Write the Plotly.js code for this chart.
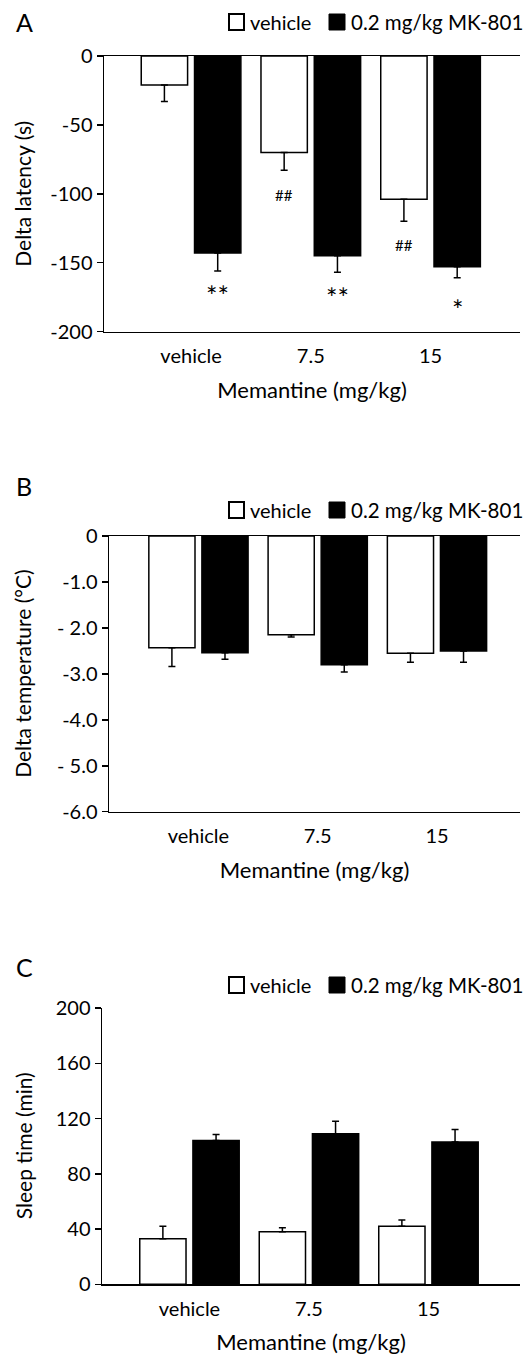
<!DOCTYPE html>
<html>
<head>
<meta charset="utf-8">
<script src="https://cdn.plot.ly/plotly-3.0.1.min.js"></script>
<style>html,body{margin:0;padding:0;background:#fff;}#chart{width:526px;height:1359px;}</style>
</head>
<body>
<div id="chart"></div>
<script>
// ---- data ----
var categories = ['vehicle', '7.5', '15'];
var seriesNames = ['vehicle', '0.2 mg/kg MK-801'];

// Panel A: Delta latency (s)
var latencyVehicle = [-21, -70, -104];
var latencyVehicleErr = [12, 13, 16];
var latencyMK = [-143, -145, -153];
var latencyMKErr = [13, 12, 8];
var latencyVehicleSig = ['', '##', '##'];
var latencyVehicleSigY = [null, -101, -137];
var latencyMKSig = ['**', '**', '*'];
var latencyMKSigY = [-172, -173, -182];
var latencyTickVals = [0, -50, -100, -150, -200];
var latencyTickText = ['0', '-50', '-100', '-150', '-200'];

// Panel B: Delta temperature (°C)
var tempVehicle = [-2.43, -2.15, -2.55];
var tempVehicleErr = [0.41, 0.05, 0.20];
var tempMK = [-2.54, -2.80, -2.50];
var tempMKErr = [0.14, 0.16, 0.25];
var tempTickVals = [0, -1, -2, -3, -4, -5, -6];
var tempTickText = ['0', '-1.0', '- 2.0', '-3.0', '-4.0', '- 5.0', '-6.0'];

// Panel C: Sleep time (min)
var sleepVehicle = [33, 38, 42];
var sleepVehicleErr = [9, 3, 4.5];
var sleepMK = [104, 109, 103];
var sleepMKErr = [4.5, 9, 9];
var sleepTickVals = [0, 40, 80, 120, 160, 200];

var panelLetters = ['A', 'B', 'C'];
var yTitles = ['Delta latency (s)', 'Delta temperature (\u00B0C)', 'Sleep time (min)'];
var xTitle = 'Memantine (mg/kg)';

// ---- styling ----
var FONT = 'Lato, "Open Sans", sans-serif';
var W = 526, H = 1359;
function zeros(n){ var a=[]; for(var i=0;i<n;i++) a.push(0); return a; }

function barTrace(vals, errs, idx, axisSuffix, down){
  var fill = idx === 0 ? '#ffffff' : '#000000';
  return {
    type: 'bar',
    name: seriesNames[idx],
    x: categories,
    y: vals,
    xaxis: 'x' + axisSuffix,
    yaxis: 'y' + axisSuffix,
    showlegend: false,
    marker: {color: fill, line: {color: '#000', width: 1.5}},
    error_y: {
      type: 'data', symmetric: false,
      array: down ? zeros(errs.length) : errs,
      arrayminus: down ? errs : zeros(errs.length),
      color: '#000', thickness: 1.5, width: 3.5
    },
    hoverinfo: 'skip'
  };
}

var data = [
  barTrace(latencyVehicle, latencyVehicleErr, 0, '', true),
  barTrace(latencyMK, latencyMKErr, 1, '', true),
  barTrace(tempVehicle, tempVehicleErr, 0, '2', true),
  barTrace(tempMK, tempMKErr, 1, '2', true),
  barTrace(sleepVehicle, sleepVehicleErr, 0, '3', false),
  barTrace(sleepMK, sleepMKErr, 1, '3', false)
];

// panel geometry in pixels (top-left origin)
var panels = [
  {axL: 104, axR: 520, yTop: 56,  yBot: 331.5, range: [-200, 0], xr: [-0.727, 2.747], mirror: true,  legY: 22,  letY: 22},
  {axL: 109, axR: 520, yTop: 536, yBot: 811.7, range: [-6, 0],   xr: [-0.750, 2.696], mirror: true,  legY: 510, letY: 486},
  {axL: 102, axR: 520, yTop: 1008, yBot: 1284.3, range: [0, 200], xr: [-0.732, 2.766], mirror: false, legY: 985, letY: 967}
];

var layout = {
  width: W, height: H,
  margin: {l: 0, r: 0, t: 0, b: 0},
  paper_bgcolor: '#fff', plot_bgcolor: 'rgba(0,0,0,0)',
  barmode: 'group', bargap: 0.11, bargroupgap: 0.13,
  showlegend: false,
  font: {family: FONT, color: '#000', size: 20},
  annotations: [], shapes: []
};

panels.forEach(function(p, i){
  var s = i === 0 ? '' : String(i + 1);
  var xd = [p.axL / W, p.axR / W];
  var yd = [1 - p.yBot / H, 1 - p.yTop / H];
  layout['xaxis' + s] = {
    domain: xd, range: p.xr, type: 'category', anchor: 'y' + s,
    showline: true, linecolor: '#000', linewidth: 1.5, mirror: p.mirror,
    ticks: '', showgrid: false, zeroline: false, fixedrange: true,
    tickfont: {family: FONT, size: 20, color: '#000'}, ticklabelstandoff: 6,
    title: {text: xTitle, font: {family: FONT, size: 22, color: '#000'}, standoff: 16}
  };
  var ya = {
    domain: yd, range: p.range, anchor: 'x' + s,
    showline: true, linecolor: '#000', linewidth: 1.5,
    ticks: 'outside', ticklen: 6, tickwidth: 1.5, tickcolor: '#000',
    showgrid: false, zeroline: false, fixedrange: true,
    tickfont: {family: FONT, size: 20, color: '#000'}
  };
  if (i === 0) { ya.tickvals = latencyTickVals; ya.ticktext = latencyTickText; }
  if (i === 1) { ya.tickvals = tempTickVals; ya.ticktext = tempTickText; }
  if (i === 2) { ya.tickvals = sleepTickVals; }
  layout['yaxis' + s] = ya;

  // y axis title (rotated), centred on the axis
  layout.annotations.push({
    xref: 'paper', yref: 'paper', x: 23 / W, y: (yd[0] + yd[1]) / 2,
    xanchor: 'center', yanchor: 'middle', showarrow: false, textangle: -90,
    text: yTitles[i], font: {family: FONT, size: 21, color: '#000'}
  });
  // panel letter
  layout.annotations.push({
    xref: 'paper', yref: 'paper', x: 24 / W, y: 1 - p.letY / H,
    xanchor: 'center', yanchor: 'middle', showarrow: false,
    text: panelLetters[i], font: {family: FONT, size: 25, color: '#000'}
  });
  // legend: boxes + labels
  var cy = p.legY;
  layout.shapes.push({type: 'rect', xref: 'paper', yref: 'paper',
    x0: 229 / W, x1: 244 / W, y0: 1 - (cy + 8) / H, y1: 1 - (cy - 8) / H,
    fillcolor: '#fff', line: {color: '#000', width: 2}});
  layout.shapes.push({type: 'rect', xref: 'paper', yref: 'paper',
    x0: 329 / W, x1: 345 / W, y0: 1 - (cy + 8) / H, y1: 1 - (cy - 8) / H,
    fillcolor: '#000', line: {color: '#000', width: 1}});
  layout.annotations.push({xref: 'paper', yref: 'paper', x: 248 / W, y: 1 - cy / H,
    xanchor: 'left', yanchor: 'middle', showarrow: false, text: seriesNames[0],
    font: {family: FONT, size: 20, color: '#000'}});
  layout.annotations.push({xref: 'paper', yref: 'paper', x: 349 / W, y: 1 - cy / H,
    xanchor: 'left', yanchor: 'middle', showarrow: false, text: seriesNames[1],
    font: {family: FONT, size: 20.5, color: '#000'}});
});

// significance markers (panel A)
var slotOffset = (1 - layout.bargap) / 4;
for (var k = 0; k < categories.length; k++) {
  if (latencyVehicleSig[k]) {
    layout.annotations.push({xref: 'x', yref: 'y', x: k - slotOffset, y: latencyVehicleSigY[k],
      text: latencyVehicleSig[k], showarrow: false, xanchor: 'center', yanchor: 'middle',
      font: {family: FONT, size: 15, color: '#000'}});
  }
  if (latencyMKSig[k]) {
    layout.annotations.push({xref: 'x', yref: 'y', x: k + slotOffset, y: latencyMKSigY[k],
      text: latencyMKSig[k], showarrow: false, xanchor: 'center', yanchor: 'middle', yshift: -3,
      font: {family: FONT, size: 27, color: '#000'}});
  }
}

Plotly.newPlot('chart', data, layout, {displayModeBar: false, staticPlot: true});
</script>
</body>
</html>
